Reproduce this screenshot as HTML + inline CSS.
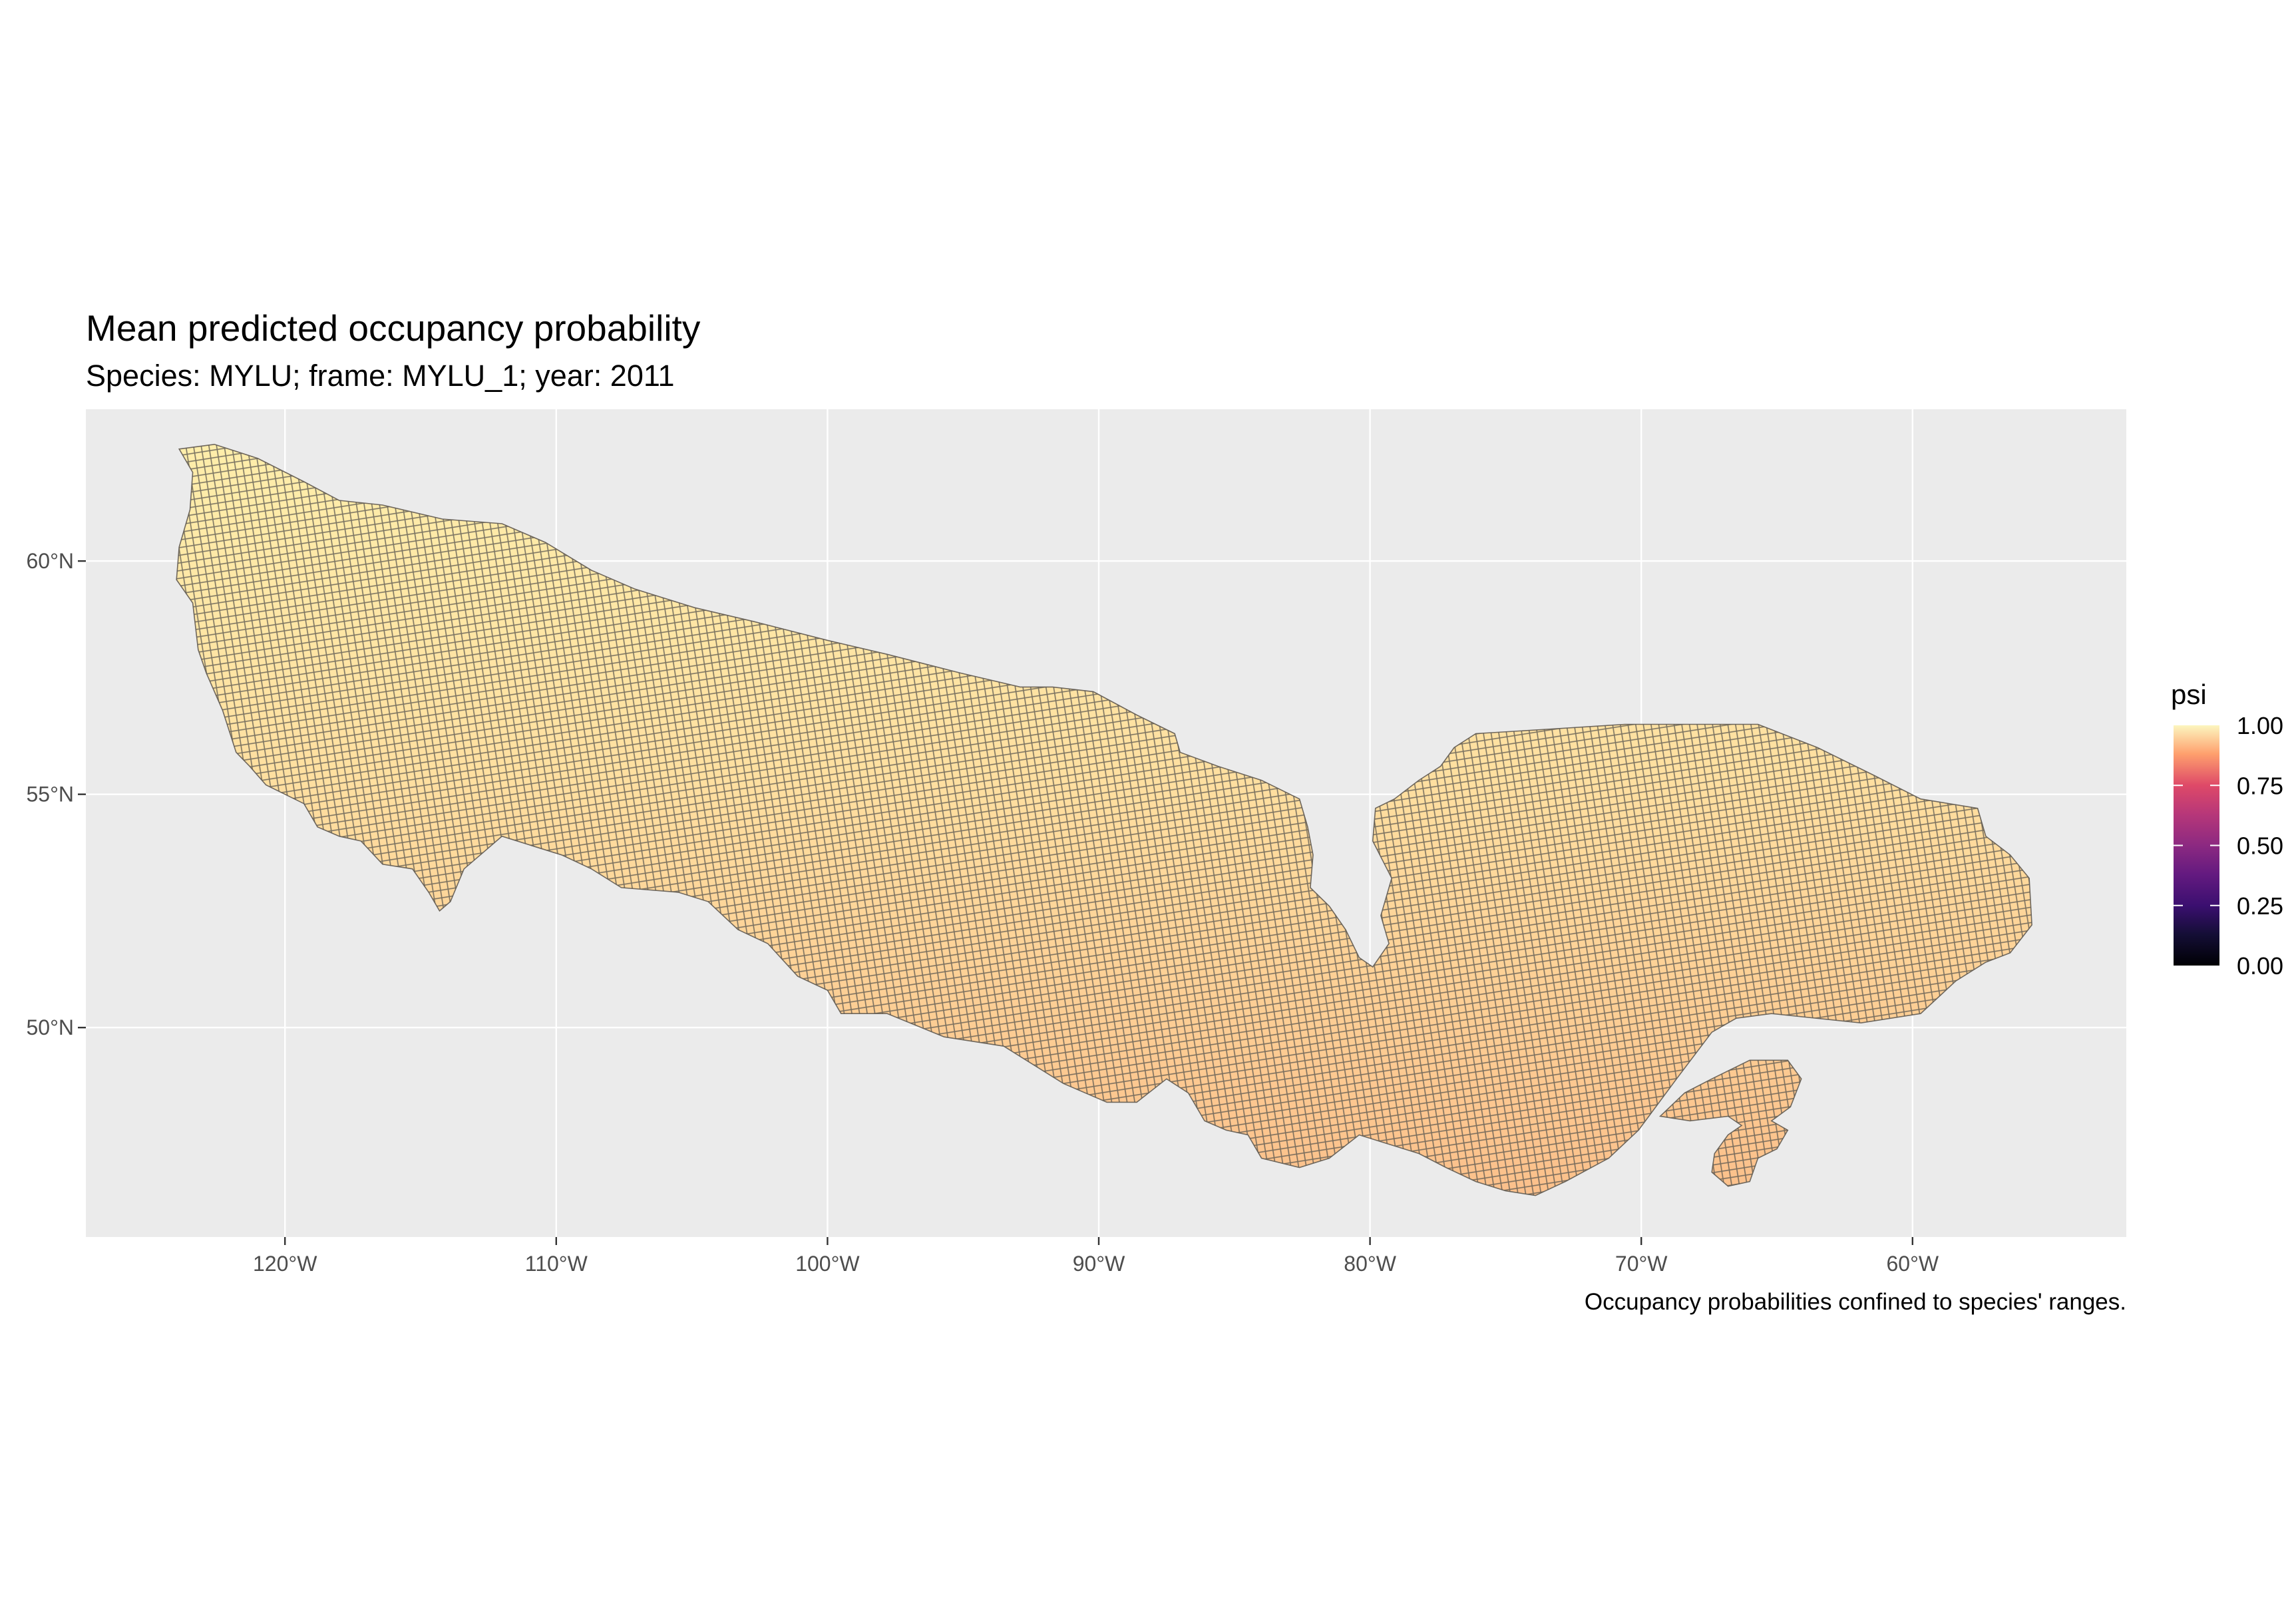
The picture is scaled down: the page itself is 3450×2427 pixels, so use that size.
<!DOCTYPE html>
<html><head><meta charset="utf-8"><title>Mean predicted occupancy probability</title>
<style>
html,body{margin:0;padding:0;background:#fff;}
svg{display:block;font-family:"Liberation Sans",Arial,sans-serif;}
</style></head>
<body>
<svg id="chart" width="3450" height="2427" viewBox="0 0 3450 2427" xmlns="http://www.w3.org/2000/svg">
<defs>
  <linearGradient id="mapFill" gradientUnits="userSpaceOnUse" x1="0" y1="660" x2="0" y2="1800">
    <stop offset="0" stop-color="#feeeab"/>
    <stop offset="0.45" stop-color="#fedfa0"/>
    <stop offset="1" stop-color="#fbc08b"/>
  </linearGradient>
  <pattern id="cells" width="11.4" height="11.4" patternUnits="userSpaceOnUse" patternTransform="rotate(-9)">
    <rect x="0" y="0" width="11.4" height="11.4" fill="none" stroke="#5a5750" stroke-width="1.6" stroke-opacity="0.8"/>
  </pattern>
  <linearGradient id="magma" x1="0" y1="1" x2="0" y2="0">
    <stop offset="0" stop-color="#000004"/>
    <stop offset="0.13" stop-color="#140e36"/>
    <stop offset="0.25" stop-color="#3b0f70"/>
    <stop offset="0.38" stop-color="#641a80"/>
    <stop offset="0.5" stop-color="#8c2981"/>
    <stop offset="0.63" stop-color="#b73779"/>
    <stop offset="0.75" stop-color="#de4968"/>
    <stop offset="0.88" stop-color="#fe9f6d"/>
    <stop offset="1" stop-color="#fcf6bf"/>
  </linearGradient>
</defs>
<text x="129" y="512" font-size="55" fill="#000">Mean predicted occupancy probability</text>
<text x="129" y="580" font-size="45" fill="#000">Species: MYLU; frame: MYLU_1; year: 2011</text>
<rect x="129" y="615" width="3066" height="1244" fill="#ebebeb"/>
<g id="grid"></g>
<g id="map"></g>
<g id="axes"></g>
<text x="3195" y="1968" font-size="35" text-anchor="end" fill="#000">Occupancy probabilities confined to species' ranges.</text>
<g id="legend">
  <text x="3262" y="1058" font-size="42" fill="#000">psi</text>
  <rect x="3266" y="1090" width="69" height="361" fill="url(#magma)"/>
  <g id="legendTicks"></g>
</g>
</svg>
<script>
const lonTicks = [-120, -110, -100, -90, -80, -70, -60];
const lonLabels = ["120°W","110°W","100°W","90°W","80°W","70°W","60°W"];
const latTicks = [50, 55, 60];
const latLabels = ["50°N","55°N","60°N"];
const legendValues = [0, 0.25, 0.5, 0.75, 1];
const legendLabels = ["0.00","0.25","0.50","0.75","1.00"];
const mainLon = [-123.9,-122.6,-121.0,-119.3,-118.0,-116.4,-114.2,-112.0,-110.4,-108.7,-107.1,-104.9,-102.7,-100.0,-97.8,-95.1,-92.9,-91.7,-90.2,-88.6,-87.2,-87.0,-85.6,-84.0,-82.6,-82.3,-82.1,-82.2,-81.5,-80.9,-80.4,-79.9,-79.3,-79.6,-79.2,-79.9,-79.8,-79.1,-78.2,-77.4,-76.9,-76.1,-73.3,-70.6,-67.9,-65.7,-63.5,-61.4,-59.7,-57.6,-57.3,-56.4,-55.7,-55.6,-56.4,-57.3,-58.4,-59.7,-61.9,-65.2,-66.5,-67.4,-68.7,-70.1,-71.2,-72.8,-73.9,-75.0,-76.1,-77.2,-78.2,-79.3,-80.4,-81.5,-82.6,-84.0,-84.5,-85.3,-86.1,-86.7,-87.5,-88.6,-89.7,-91.3,-92.4,-93.5,-95.7,-97.8,-99.5,-100.0,-101.1,-102.2,-103.3,-104.4,-105.5,-107.6,-108.7,-109.8,-110.9,-112.0,-112.8,-113.4,-113.9,-114.3,-114.7,-115.3,-116.4,-117.2,-118.0,-118.8,-119.3,-120.7,-121.3,-121.8,-122.3,-122.9,-123.2,-123.4,-124.0,-123.9,-123.5,-123.4];
const mainLat = [62.4,62.5,62.2,61.7,61.3,61.2,60.9,60.8,60.4,59.8,59.4,59.0,58.7,58.3,58.0,57.6,57.3,57.3,57.2,56.7,56.3,55.9,55.6,55.3,54.9,54.3,53.7,53.0,52.6,52.1,51.5,51.3,51.8,52.4,53.2,54.0,54.7,54.9,55.3,55.6,56.0,56.3,56.4,56.5,56.5,56.5,56.0,55.4,54.9,54.7,54.1,53.7,53.2,52.2,51.6,51.4,51.0,50.3,50.1,50.3,50.2,49.9,48.9,47.8,47.2,46.7,46.4,46.5,46.7,47.0,47.3,47.5,47.7,47.2,47.0,47.2,47.7,47.8,48.0,48.6,48.9,48.4,48.4,48.8,49.2,49.6,49.8,50.3,50.3,50.8,51.1,51.8,52.1,52.7,52.9,53.0,53.4,53.7,53.9,54.1,53.7,53.4,52.7,52.5,52.9,53.4,53.5,54.0,54.1,54.3,54.8,55.2,55.6,55.9,56.8,57.6,58.1,59.1,59.6,60.3,61.1,61.9];
const islandLon = [-69.3,-68.4,-67.4,-66.0,-64.6,-64.1,-64.5,-65.2,-64.6,-65.0,-65.7,-66.0,-66.8,-67.4,-67.3,-66.8,-66.3,-66.8,-68.2];
const islandLat = [48.1,48.6,48.9,49.3,49.3,48.9,48.3,48.0,47.8,47.4,47.2,46.7,46.6,46.9,47.3,47.7,47.9,48.1,48.0];

const NS = "http://www.w3.org/2000/svg";
const panel = {x0:129, x1:3195, y0:615, y1:1859};
function xScale(lon){ return 428.2 + (lon + 120) * 40.76; }
function yScale(lat){ return 843.1 - (lat - 60) * 70.11; }
function legY(v){ return 1451 - v * 361; }
function mk(tag, attrs, parent){ const e = document.createElementNS(NS, tag); for (const k in attrs) e.setAttribute(k, attrs[k]); parent.appendChild(e); return e; }

const grid = document.getElementById('grid');
const axes = document.getElementById('axes');
lonTicks.forEach((lon, i) => {
  const x = xScale(lon);
  const l = mk('line', {x1:x, x2:x, y1:panel.y0, y2:panel.y1, stroke:'#fff', 'stroke-width':2.4}, grid);
  
  
  const t = mk('line', {x1:x, x2:x, y1:panel.y1, y2:panel.y1+12, stroke:'#333', 'stroke-width':2.4}, axes);
  
  
  const tx = mk('text', {x:x, y:1910, 'font-size':32, 'text-anchor':'middle', fill:'#4d4d4d'}, axes);
  tx.textContent = lonLabels[i];
  
  
});
latTicks.forEach((lat, i) => {
  const y = yScale(lat);
  const l = mk('line', {x1:panel.x0, x2:panel.x1, y1:y, y2:y, stroke:'#fff', 'stroke-width':2.4}, grid);
  
  
  const t = mk('line', {x1:panel.x0-12, x2:panel.x0, y1:y, y2:y, stroke:'#333', 'stroke-width':2.4}, axes);
  
  
  const tx = mk('text', {x:panel.x0-18, y:y+11, 'font-size':32, 'text-anchor':'end', fill:'#4d4d4d'}, axes);
  tx.textContent = latLabels[i];
  
  
});

const map = document.getElementById('map');
function polyPoints(lons, lats){ return lons.map((lo, i) => xScale(lo).toFixed(1) + ',' + yScale(lats[i]).toFixed(1)).join(' '); }
[[mainLon, mainLat, 'range-mainland'], [islandLon, islandLat, 'range-island']].forEach(([lo, la, name]) => {
  const pts = polyPoints(lo, la);
  const p = mk('polygon', {points:pts, fill:'url(#mapFill)', stroke:'#6f675c', 'stroke-width':1.6}, map);
  
  
  const g = mk('polygon', {points:pts, fill:'url(#cells)'}, map);
  
  
});

const lt = document.getElementById('legendTicks');
legendValues.forEach((v, i) => {
  const y = legY(v);
  if (v > 0 && v < 1) {
    const a = mk('line', {x1:3266, x2:3280, y1:y, y2:y, stroke:'#fff', 'stroke-width':2}, lt);
    
    
    const b = mk('line', {x1:3321, x2:3335, y1:y, y2:y, stroke:'#fff', 'stroke-width':2}, lt);
    
    
  }
  const t = mk('text', {x:3361, y:y+13, 'font-size':36, fill:'#000'}, lt);
  t.textContent = legendLabels[i];
  
  
});
</script>
</body></html>
